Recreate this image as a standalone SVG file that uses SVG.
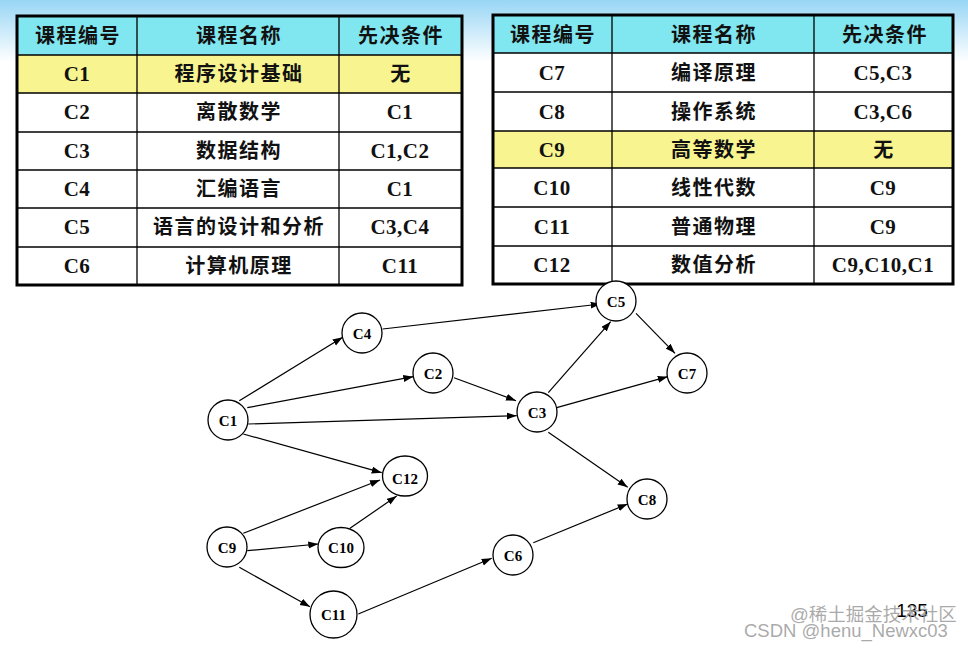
<svg xmlns="http://www.w3.org/2000/svg" width="968" height="648" viewBox="0 0 968 648">
<defs>
<linearGradient id="bg" x1="0" y1="0" x2="0" y2="1">
<stop offset="0" stop-color="#98d6f5"/>
<stop offset="1" stop-color="#ffffff"/>
</linearGradient>
<marker id="ah" markerUnits="userSpaceOnUse" markerWidth="11" markerHeight="8" refX="10" refY="3.5" orient="auto">
<path d="M0,0 L10,3.5 L0,7 z" fill="#000"/>
</marker>
<style>
.hd{fill:#80e6f0}
.yl{fill:#f8f490}
.wt{fill:#ffffff}
.ob{fill:none;stroke:#000;stroke-width:3}
.ln{stroke:#000;stroke-width:1.3}
.cj{font-family:"Noto Sans CJK SC",sans-serif;font-weight:700;font-size:20px;letter-spacing:1.5px;text-anchor:middle;fill:#111}
.lt{font-family:"Liberation Serif",serif;font-weight:700;font-size:21px;letter-spacing:0.5px;text-anchor:middle;fill:#111}
.nd{fill:#fff;stroke:#000;stroke-width:1.3}
.nl{font-family:"Liberation Serif",serif;font-weight:700;font-size:15px;text-anchor:middle;fill:#000}
.ed line{stroke:#000;stroke-width:1.2;marker-end:url(#ah)}
.wm{font-family:"Liberation Sans","Noto Sans CJK SC",sans-serif;font-size:18.5px;fill:#9a9a9a;fill-opacity:0.85}
</style>
</defs>
<rect x="0" y="0" width="968" height="648" fill="#fff"/>
<rect x="0" y="0" width="968" height="62" fill="url(#bg)"/>

<g id="table1">
<rect class="hd" x="17" y="16" width="445" height="39"/>
<rect class="yl" x="17" y="55" width="445" height="38"/>
<rect class="wt" x="17" y="93" width="445" height="192"/>
<line class="ln" x1="137" y1="16" x2="137" y2="285"/>
<line class="ln" x1="339" y1="16" x2="339" y2="285"/>
<line class="ln" x1="17" y1="55" x2="462" y2="55"/>
<line class="ln" x1="17" y1="93" x2="462" y2="93"/>
<line class="ln" x1="17" y1="132" x2="462" y2="132"/>
<line class="ln" x1="17" y1="170" x2="462" y2="170"/>
<line class="ln" x1="17" y1="208" x2="462" y2="208"/>
<line class="ln" x1="17" y1="247" x2="462" y2="247"/>
<rect class="ob" x="17" y="16" width="445" height="269"/>
<text class="cj" x="78" y="43">课程编号</text>
<text class="cj" x="239" y="43">课程名称</text>
<text class="cj" x="401" y="43">先决条件</text>
<text class="lt" x="77" y="81">C1</text>
<text class="cj" x="239" y="81">程序设计基础</text>
<text class="cj" x="401" y="81">无</text>
<text class="lt" x="77" y="119">C2</text>
<text class="cj" x="239" y="119">离散数学</text>
<text class="lt" x="400" y="119">C1</text>
<text class="lt" x="77" y="158">C3</text>
<text class="cj" x="239" y="158">数据结构</text>
<text class="lt" x="400" y="158">C1,C2</text>
<text class="lt" x="77" y="196">C4</text>
<text class="cj" x="239" y="196">汇编语言</text>
<text class="lt" x="400" y="196">C1</text>
<text class="lt" x="77" y="234">C5</text>
<text class="cj" x="239" y="234">语言的设计和分析</text>
<text class="lt" x="400" y="234">C3,C4</text>
<text class="lt" x="77" y="273">C6</text>
<text class="cj" x="239" y="273">计算机原理</text>
<text class="lt" x="400" y="273">C11</text>
</g>

<g id="table2">
<rect class="hd" x="493" y="15" width="460" height="38"/>
<rect class="wt" x="493" y="53" width="460" height="78"/>
<rect class="yl" x="493" y="131" width="460" height="37"/>
<rect class="wt" x="493" y="168" width="460" height="116"/>
<line class="ln" x1="612" y1="15" x2="612" y2="284"/>
<line class="ln" x1="814" y1="15" x2="814" y2="284"/>
<line class="ln" x1="493" y1="53" x2="953" y2="53"/>
<line class="ln" x1="493" y1="92" x2="953" y2="92"/>
<line class="ln" x1="493" y1="131" x2="953" y2="131"/>
<line class="ln" x1="493" y1="168" x2="953" y2="168"/>
<line class="ln" x1="493" y1="207" x2="953" y2="207"/>
<line class="ln" x1="493" y1="246" x2="953" y2="246"/>
<rect class="ob" x="493" y="15" width="460" height="269"/>
<text class="cj" x="553" y="42">课程编号</text>
<text class="cj" x="714" y="42">课程名称</text>
<text class="cj" x="885" y="42">先决条件</text>
<text class="lt" x="552" y="80">C7</text>
<text class="cj" x="714" y="80">编译原理</text>
<text class="lt" x="883" y="80">C5,C3</text>
<text class="lt" x="552" y="119">C8</text>
<text class="cj" x="714" y="119">操作系统</text>
<text class="lt" x="883" y="119">C3,C6</text>
<text class="lt" x="552" y="157">C9</text>
<text class="cj" x="714" y="157">高等数学</text>
<text class="cj" x="884" y="157">无</text>
<text class="lt" x="552" y="195">C10</text>
<text class="cj" x="714" y="195">线性代数</text>
<text class="lt" x="883" y="195">C9</text>
<text class="lt" x="552" y="234">C11</text>
<text class="cj" x="714" y="234">普通物理</text>
<text class="lt" x="883" y="234">C9</text>
<text class="lt" x="552" y="272">C12</text>
<text class="cj" x="714" y="272">数值分析</text>
<text class="lt" x="883" y="272">C9,C10,C1</text>
</g>

<g id="connectors" class="ed">
<line x1="239.3" y1="400.7" x2="342.7" y2="337.3"/>
<line x1="247.3" y1="407.7" x2="413.3" y2="376.7"/>
<line x1="248.3" y1="424" x2="516.7" y2="415.7"/>
<line x1="243.3" y1="434" x2="381.7" y2="472.7"/>
<line x1="382.7" y1="329" x2="600.7" y2="304"/>
<line x1="454" y1="377.7" x2="516" y2="400.7"/>
<line x1="548.3" y1="392.7" x2="610.7" y2="321.7"/>
<line x1="556.7" y1="407.7" x2="667.7" y2="376.7"/>
<line x1="548.3" y1="432.3" x2="627.7" y2="487.3"/>
<line x1="636" y1="313.3" x2="675" y2="353.3"/>
<line x1="533.3" y1="542.7" x2="627.7" y2="504"/>
<line x1="243.3" y1="533.3" x2="380" y2="480"/>
<line x1="247.3" y1="550.7" x2="318.3" y2="544"/>
<line x1="350" y1="528.3" x2="396.7" y2="496"/>
<line x1="239.3" y1="567.3" x2="310" y2="606.7"/>
<line x1="358.3" y1="614" x2="491.7" y2="558.3"/>
</g>

<g id="C1"><circle class="nd" cx="228" cy="420" r="20"/><text class="nl" x="228" y="425.5">C1</text></g>
<g id="C2"><circle class="nd" cx="433" cy="373" r="20"/><text class="nl" x="433" y="378.5">C2</text></g>
<g id="C3"><circle class="nd" cx="537" cy="412" r="20"/><text class="nl" x="537" y="417.5">C3</text></g>
<g id="C4"><circle class="nd" cx="362" cy="333" r="20"/><text class="nl" x="362" y="338.5">C4</text></g>
<g id="C5"><circle class="nd" cx="616" cy="301" r="20"/><text class="nl" x="616" y="306.5">C5</text></g>
<g id="C6"><circle class="nd" cx="513" cy="555" r="20"/><text class="nl" x="513" y="560.5">C6</text></g>
<g id="C7"><circle class="nd" cx="687" cy="373" r="20"/><text class="nl" x="687" y="378.5">C7</text></g>
<g id="C8"><circle class="nd" cx="647" cy="499" r="20"/><text class="nl" x="647" y="504.5">C8</text></g>
<g id="C9"><circle class="nd" cx="227" cy="547" r="20"/><text class="nl" x="227" y="552.5">C9</text></g>
<g id="C10"><ellipse class="nd" cx="341" cy="547.5" rx="23" ry="20"/><text class="nl" x="341" y="553">C10</text></g>
<g id="C11"><circle class="nd" cx="333.5" cy="614.5" r="23.5"/><text class="nl" x="333.5" y="620">C11</text></g>
<g id="C12"><ellipse class="nd" cx="405" cy="476" rx="22.5" ry="20"/><text class="nl" x="405" y="484">C12</text></g>

<text x="912" y="617" font-family="Liberation Sans, sans-serif" font-size="19" text-anchor="middle" fill="#000">135</text>
<text class="wm" x="790" y="621" font-size="19">@稀土掘金技术社区</text>
<text class="wm" x="744" y="637">CSDN @henu_Newxc03</text>
</svg>
